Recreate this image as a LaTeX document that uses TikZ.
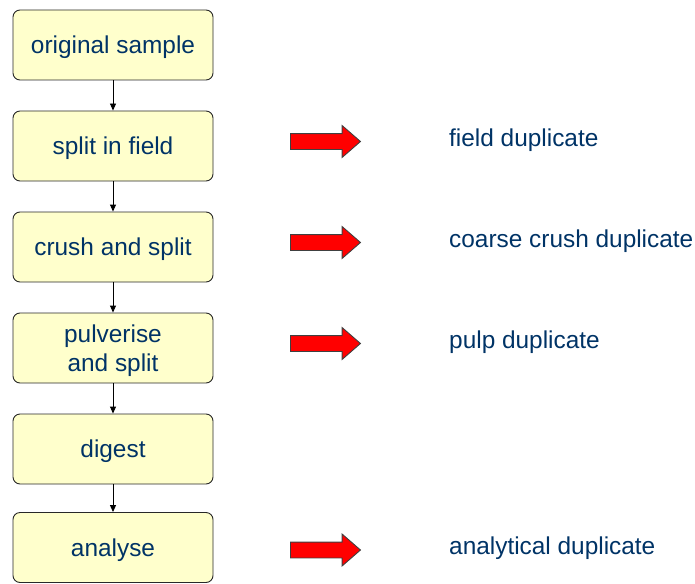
\documentclass[tikz,border=0pt]{standalone}
\usepackage{fontspec}
\setmainfont{Liberation Sans}
\usetikzlibrary{shapes.arrows,arrows.meta}
\definecolor{boxfill}{RGB}{255,255,204}
\definecolor{boxline}{RGB}{40,40,40}
\definecolor{labelblue}{RGB}{0,51,102}
\begin{document}
\begin{tikzpicture}[x=1pt,y=-1pt,
  stepbox/.style={draw=boxline, line width=0.9pt, fill=boxfill, rounded corners=7pt,
    minimum width=200pt, minimum height=70pt, inner sep=0pt, align=center,
    text depth=0pt, text=labelblue, font=\fontsize{24.4}{29}\selectfont},
  flow/.style={-{Triangle[length=7pt,width=6pt]}, line width=0.9pt, black},
  redarrow/.style={single arrow, draw=black!75, line width=0.9pt, fill=red,
    minimum height=70pt, minimum width=31pt, single arrow head extend=8pt,
    single arrow tip angle=82, inner sep=7.5pt, anchor=tail},
  duplabel/.style={anchor=west, inner sep=0pt, text=labelblue,
    font=\fontsize{24.4}{29}\selectfont}]
  \useasboundingbox (0,0) rectangle (695,583);

  % process steps
  \node[stepbox] (s1) at (113,45) {original sample};
  \node[stepbox] (s2) at (113,146) {split in field};
  \node[stepbox] (s3) at (113,247) {crush and split};
  \node[stepbox] (s4) at (113,348) {pulverise\\and split};
  \node[stepbox] (s5) at (113,449) {digest};
  \node[stepbox] (s6) at (113,547.5) {analyse};

  \draw[flow] (s1) -- (s2);
  \draw[flow] (s2) -- (s3);
  \draw[flow] (s3) -- (s4);
  \draw[flow] (s4) -- (s5);
  \draw[flow] (s5) -- (s6);

  % duplicate branches
  \node[redarrow] (a2) at (290,141.5) {};
  \node[redarrow] (a3) at (290,242.5) {};
  \node[redarrow] (a4) at (290,343.5) {};
  \node[redarrow] (a6) at (290,550) {};

  \node[duplabel] (d2) at (449,140) {field duplicate};
  \node[duplabel] (d3) at (449,241) {coarse crush duplicate};
  \node[duplabel] (d4) at (449,342) {pulp duplicate};
  \node[duplabel] (d6) at (449,548) {analytical duplicate};
\end{tikzpicture}
\end{document}
